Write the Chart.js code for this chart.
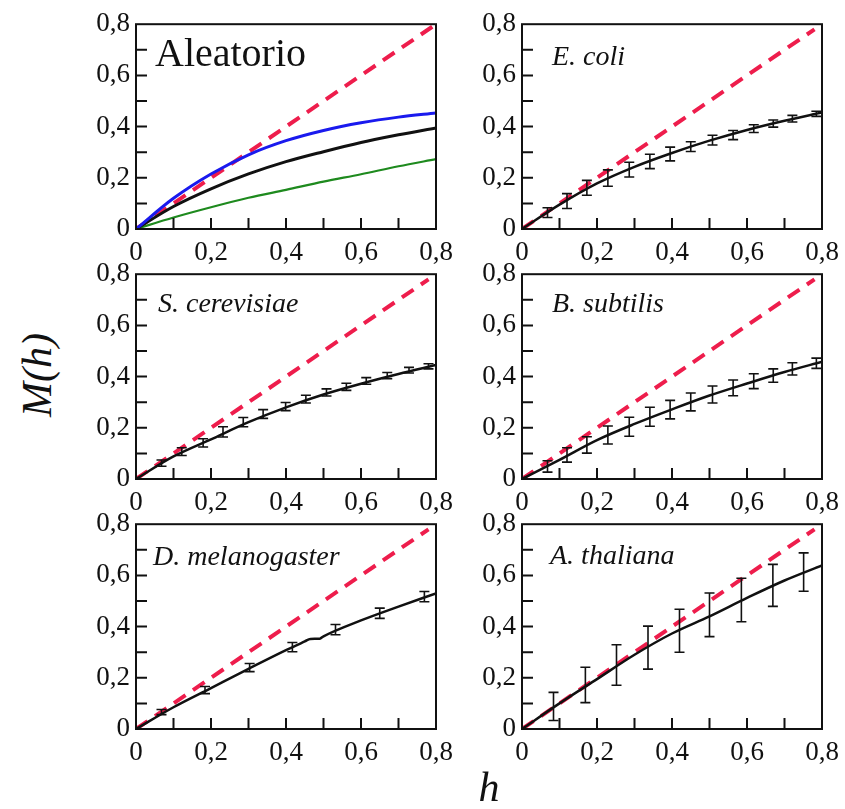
<!DOCTYPE html>
<html>
<head>
<meta charset="utf-8">
<script src="https://cdn.jsdelivr.net/npm/chart.js@4.4.0/dist/chart.umd.min.js"></script>
<style>
  html, body { margin: 0; padding: 0; background: #fff; }
  #fig { position: relative; width: 845px; height: 809px; overflow: hidden; }
  #fig canvas { position: absolute; }
  .axis-title { position: absolute; font: italic 42px "Liberation Serif", "DejaVu Serif", serif; color: #111; white-space: nowrap; }
  #ytitle { left: 37px; top: 375px; transform: translate(-50%, -50%) rotate(-90deg); }
  #xtitle { left: 489px; top: 787px; transform: translate(-50%, -50%); }
</style>
</head>
<body>
<div id="fig">
  <canvas id="p-rand"></canvas>
  <canvas id="p-ecoli"></canvas>
  <canvas id="p-scer"></canvas>
  <canvas id="p-bsub"></canvas>
  <canvas id="p-dmel"></canvas>
  <canvas id="p-atha"></canvas>
  <div id="ytitle" class="axis-title">M(h)</div>
  <div id="xtitle" class="axis-title">h</div>
</div>
<script>
// ---------------------------------------------------
// M(h) gegen h: Zufallsmodell und fünf Organismen,
// Messpunkte mit Fehlerbalken, angepasste Kurve und Diagonale M = h.
// ---------------------------------------------------

// Stützstellen der Kurven (h)
const curveH = [0, 0.1, 0.2, 0.3, 0.4, 0.5, 0.6, 0.7, 0.8];

// Diagonale M = h (gestrichelt)
const diagRand = [0, 0.79];
const diagOrg  = [0, 0.78];

// Aleatorio: drei Modellkurven
const randBlue  = [0, 0.12, 0.215, 0.29, 0.345, 0.385, 0.415, 0.437, 0.453];
const randBlack = [0, 0.088, 0.157, 0.215, 0.263, 0.302, 0.338, 0.368, 0.395];
const randGreen = [0, 0.045, 0.085, 0.122, 0.153, 0.185, 0.214, 0.245, 0.273];

// E. coli
const ecoliCurve = [0, 0.095, 0.178, 0.243, 0.297, 0.345, 0.387, 0.423, 0.455];
const ecoliH   = [0.068, 0.12, 0.173, 0.229, 0.286, 0.341, 0.395, 0.45, 0.508, 0.563, 0.618, 0.67, 0.721, 0.785];
const ecoliM   = [0.064, 0.109, 0.161, 0.199, 0.232, 0.264, 0.293, 0.322, 0.347, 0.367, 0.392, 0.412, 0.431, 0.45];
const ecoliErr = [0.019, 0.029, 0.029, 0.032, 0.029, 0.028, 0.027, 0.019, 0.019, 0.018, 0.015, 0.014, 0.013, 0.01];

// S. cerevisiae
const scerCurve = [0, 0.088, 0.155, 0.222, 0.28, 0.33, 0.372, 0.41, 0.445];
const scerH   = [0.068, 0.122, 0.179, 0.232, 0.286, 0.339, 0.399, 0.453, 0.508, 0.561, 0.614, 0.67, 0.728, 0.78];
const scerM   = [0.062, 0.107, 0.141, 0.184, 0.222, 0.254, 0.283, 0.312, 0.338, 0.36, 0.383, 0.404, 0.425, 0.44];
const scerErr = [0.012, 0.015, 0.016, 0.02, 0.018, 0.017, 0.016, 0.015, 0.014, 0.014, 0.013, 0.012, 0.011, 0.01];

// B. subtilis
const bsubCurve = [0, 0.075, 0.152, 0.215, 0.272, 0.326, 0.373, 0.418, 0.458];
const bsubH   = [0.068, 0.12, 0.173, 0.229, 0.286, 0.341, 0.395, 0.45, 0.508, 0.563, 0.618, 0.67, 0.721, 0.785];
const bsubM   = [0.049, 0.094, 0.133, 0.172, 0.204, 0.243, 0.271, 0.301, 0.33, 0.356, 0.382, 0.404, 0.43, 0.452];
const bsubErr = [0.022, 0.028, 0.032, 0.035, 0.037, 0.037, 0.036, 0.035, 0.033, 0.031, 0.029, 0.026, 0.024, 0.02];

// D. melanogaster (Kurve mit kleinem Knick bei h ~ 0,48)
const dmelCurveH = [0, 0.1, 0.2, 0.3, 0.4, 0.45, 0.465, 0.49, 0.5, 0.6, 0.7, 0.8];
const dmelCurve  = [0, 0.085, 0.16, 0.235, 0.308, 0.342, 0.352, 0.353, 0.362, 0.424, 0.478, 0.53];
const dmelH   = [0.068, 0.184, 0.303, 0.417, 0.532, 0.65, 0.769];
const dmelM   = [0.066, 0.152, 0.24, 0.32, 0.388, 0.452, 0.517];
const dmelErr = [0.01, 0.014, 0.016, 0.018, 0.02, 0.02, 0.02];

// A. thaliana
const athaCurve = [0, 0.1, 0.195, 0.29, 0.373, 0.44, 0.512, 0.58, 0.639];
const athaH   = [0.084, 0.169, 0.252, 0.336, 0.42, 0.5, 0.585, 0.669, 0.751];
const athaM   = [0.088, 0.172, 0.25, 0.318, 0.384, 0.446, 0.504, 0.561, 0.613];
const athaErr = [0.055, 0.069, 0.079, 0.084, 0.084, 0.085, 0.085, 0.082, 0.075];

// Tick-Beschriftungen
const tickValues = [0, 0.2, 0.4, 0.6, 0.8];
const tickLabels = ['0', '0,2', '0,4', '0,6', '0,8'];

const SERIF = '"Liberation Serif", "DejaVu Serif", serif';
const RED = '#ee1d4c';

// Rahmen und nach innen zeigende Striche alle 0,1.
const frameTicks = {
  id: 'frameTicks',
  afterDraw(chart) {
    const { ctx, chartArea: a, scales: { x, y } } = chart;
    ctx.save();
    ctx.strokeStyle = '#111';
    ctx.lineWidth = 2;
    ctx.strokeRect(a.left, a.top, a.right - a.left, a.bottom - a.top);
    ctx.beginPath();
    for (let i = 1; i < 8; i++) {
      const px = x.getPixelForValue(i / 10);
      const py = y.getPixelForValue(i / 10);
      ctx.moveTo(px, a.bottom);
      ctx.lineTo(px, a.bottom - 11);
      ctx.moveTo(a.left, py);
      ctx.lineTo(a.left + 11, py);
    }
    ctx.stroke();
    ctx.restore();
  }
};

// Fehlerbalken mit Querstrichen für Datensätze mit "errors".
const errorBars = {
  id: 'errorBars',
  afterDatasetsDraw(chart) {
    const { ctx, scales: { x, y } } = chart;
    chart.data.datasets.forEach(ds => {
      if (!ds.errors) return;
      ctx.save();
      ctx.strokeStyle = '#111';
      ctx.lineWidth = 1.6;
      ctx.beginPath();
      ds.data.forEach((p, i) => {
        const px = x.getPixelForValue(p.x);
        const top = y.getPixelForValue(p.y + ds.errors[i]);
        const bot = y.getPixelForValue(p.y - ds.errors[i]);
        ctx.moveTo(px, top);
        ctx.lineTo(px, bot);
        ctx.moveTo(px - 5, top);
        ctx.lineTo(px + 5, top);
        ctx.moveTo(px - 5, bot);
        ctx.lineTo(px + 5, bot);
      });
      ctx.stroke();
      ctx.restore();
    });
  }
};

// Name des Panels oben links im Diagramm.
const panelLabel = {
  id: 'panelLabel',
  afterDraw(chart, args, opts) {
    if (!opts.text) return;
    const { ctx, chartArea: a } = chart;
    ctx.save();
    ctx.fillStyle = '#111';
    ctx.font = `${opts.italic ? 'italic ' : ''}${opts.size}px ${SERIF}`;
    ctx.textBaseline = 'alphabetic';
    ctx.fillText(opts.text, a.left + opts.dx, a.top + opts.dy);
    ctx.restore();
  }
};

function pts(xs, ys) {
  return xs.map((v, i) => ({ x: v, y: ys[i] }));
}

function curve(xs, ys, color, width) {
  return {
    data: pts(xs, ys),
    borderColor: color,
    borderWidth: width,
    pointRadius: 0,
    cubicInterpolationMode: 'monotone',
    fill: false
  };
}

function diagonal(d) {
  return {
    data: pts(d, d),
    borderColor: RED,
    borderWidth: 4,
    borderDash: [14, 9],
    pointRadius: 0,
    fill: false
  };
}

function measured(xs, ys, errs) {
  return {
    data: pts(xs, ys),
    errors: errs,
    showLine: false,
    pointRadius: 0
  };
}

function tickOpts(padding) {
  return {
    color: '#111',
    font: { family: SERIF, size: 27 },
    maxRotation: 0,
    autoSkip: false,
    padding,
    callback: (v) => tickLabels[tickValues.indexOf(v)] ?? ''
  };
}

function axis(position, padding, fit) {
  return {
    type: 'linear',
    position,
    min: 0,
    max: 0.8,
    grid: { display: false, drawTicks: false },
    border: { display: false },
    afterBuildTicks(scale) {
      scale.ticks = tickValues.map(v => ({ value: v }));
    },
    ticks: tickOpts(padding),
    afterFit: fit
  };
}

// Lage der Zeichenfläche: links, oben, Breite, Höhe
function makePanel(id, box, datasets, label) {
  const cv = document.getElementById(id);
  const padL = 70, padT = 20, padR = 30, padB = 46;
  cv.width = box.w + padL + padR;
  cv.height = box.h + padT + padB;
  cv.style.left = (box.l - padL) + 'px';
  cv.style.top = (box.t - padT) + 'px';

  new Chart(cv.getContext('2d'), {
    type: 'line',
    data: { datasets },
    options: {
      responsive: false,
      animation: false,
      devicePixelRatio: 1,
      layout: { padding: { top: padT, right: padR, left: 0, bottom: 0 } },
      plugins: {
        legend: { display: false },
        tooltip: { enabled: false },
        panelLabel: label
      },
      scales: {
        x: axis('bottom', 8, s => { s.height = padB; }),
        y: axis('left', 6, s => { s.width = padL; })
      }
    },
    plugins: [frameTicks, errorBars, panelLabel]
  });
}

makePanel('p-rand', { l: 136, t: 22, w: 300, h: 207 }, [
  curve(curveH, randBlue, '#1a1aee', 3),
  curve(curveH, randBlack, '#111', 3),
  curve(curveH, randGreen, '#1e8a1e', 2.2),
  diagonal(diagRand)
], { text: 'Aleatorio', italic: false, size: 40, dx: 19, dy: 42 });

makePanel('p-ecoli', { l: 522, t: 22, w: 300, h: 207 }, [
  measured(ecoliH, ecoliM, ecoliErr),
  curve(curveH, ecoliCurve, '#111', 2.5),
  diagonal(diagOrg)
], { text: 'E. coli', italic: true, size: 28, dx: 30, dy: 41 });

makePanel('p-scer', { l: 136, t: 272, w: 300, h: 207 }, [
  measured(scerH, scerM, scerErr),
  curve(curveH, scerCurve, '#111', 2.5),
  diagonal(diagOrg)
], { text: 'S. cerevisiae', italic: true, size: 28, dx: 22, dy: 38 });

makePanel('p-bsub', { l: 522, t: 272, w: 300, h: 207 }, [
  measured(bsubH, bsubM, bsubErr),
  curve(curveH, bsubCurve, '#111', 2.5),
  diagonal(diagOrg)
], { text: 'B. subtilis', italic: true, size: 28, dx: 30, dy: 38 });

makePanel('p-dmel', { l: 136, t: 522, w: 300, h: 207 }, [
  measured(dmelH, dmelM, dmelErr),
  curve(dmelCurveH, dmelCurve, '#111', 2.5),
  diagonal(diagOrg)
], { text: 'D. melanogaster', italic: true, size: 28, dx: 17, dy: 41 });

makePanel('p-atha', { l: 522, t: 522, w: 300, h: 207 }, [
  measured(athaH, athaM, athaErr),
  curve(curveH, athaCurve, '#111', 2.5),
  diagonal(diagOrg)
], { text: 'A. thaliana', italic: true, size: 28, dx: 28, dy: 40 });
</script>
</body>
</html>
